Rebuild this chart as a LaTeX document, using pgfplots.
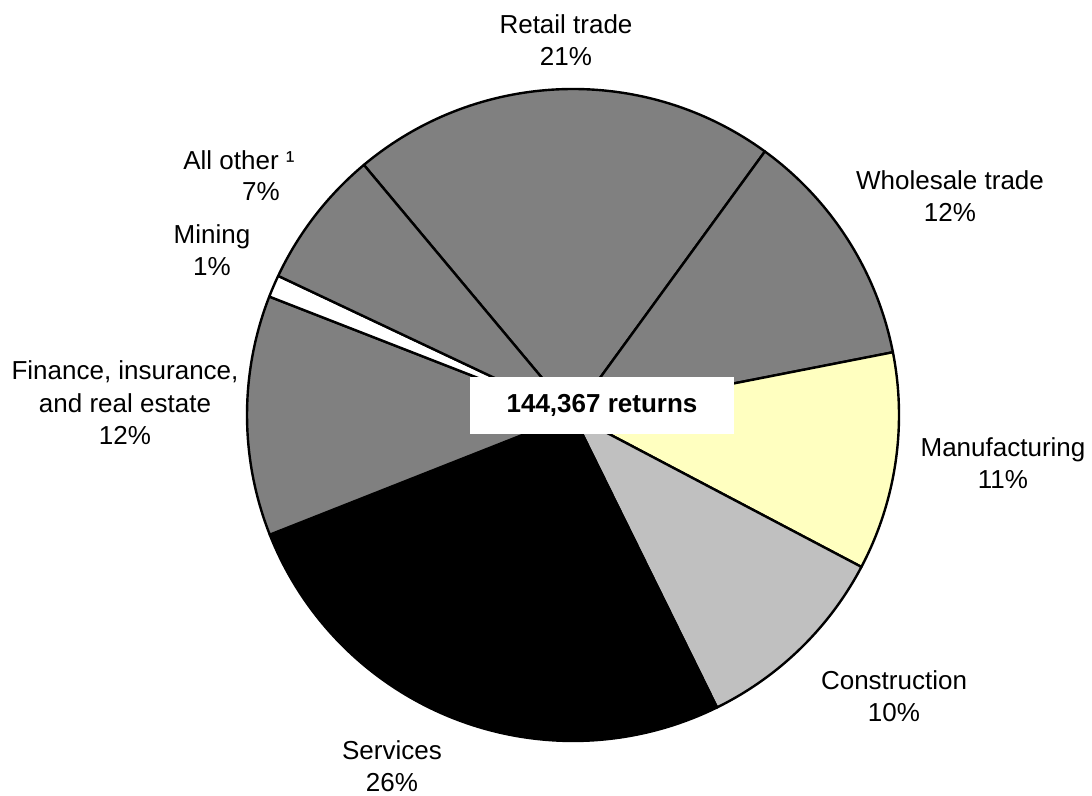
\documentclass[border=0pt]{standalone}
\usepackage{fontspec}
\setmainfont{Liberation Sans}
\usepackage{pgfplots}
\usepackage{pgfplotstable}
\pgfplotsset{compat=1.18}

\definecolor{piegray}{RGB}{128,128,128}
\definecolor{pielight}{RGB}{192,192,192}
\definecolor{pieyellow}{RGB}{255,255,192}

% slices clockwise, starting at the left edge of Retail trade
\pgfplotstableread[col sep=comma]{
name,value,color
Retail trade,21.1,piegray
Wholesale trade,11.9,piegray
Manufacturing,10.8,pieyellow
Construction,10.0,pielight
Services,26.3,black
Finance,11.9,piegray
Mining,1.1,white
All other,6.9,piegray
}\piedata

\begin{document}
\begin{tikzpicture}[lab/.style={font=\fontsize{13}{16.2}\selectfont, align=center}]
\useasboundingbox (0,0) rectangle (546pt,398pt);
\begin{axis}[
  at={(0,0)}, anchor=south west,
  scale only axis, width=546pt, height=398pt,
  xmin=0, xmax=1092, ymin=0, ymax=796,
  hide axis, clip=false,
]
\pgfplotstablegetrowsof{\piedata}
\pgfmathtruncatemacro\N{\pgfplotsretval-1}
\def\angstart{129.9}
\pgfplotsforeachungrouped \i in {0,...,\N}{%
  \pgfplotstablegetelem{\i}{value}\of\piedata \let\val\pgfplotsretval
  \pgfplotstablegetelem{\i}{color}\of\piedata \let\col\pgfplotsretval
  \pgfmathsetmacro\angend{\angstart-3.6*\val}
  \edef\temp{\noexpand\filldraw[fill=\col, draw=black, line width=1.2pt, line join=round]
    (axis cs:573,381) -- ++(\angstart:163pt)
    arc[start angle=\angstart, end angle=\angend, radius=163pt] -- cycle;}
  \temp
  \let\angstart\angend
}

\node[fill=white, inner sep=0pt, minimum width=132pt, minimum height=28.5pt,
      font=\bfseries\fontsize{13}{15}\selectfont] at (axis cs:602,390.5) {144,367 returns};

\node[lab] at (axis cs:566,756) {Retail trade\\21\%};
\node[lab] at (axis cs:950,600) {Wholesale trade\\12\%};
\node[lab] at (axis cs:1003,333) {Manufacturing\\11\%};
\node[lab] at (axis cs:894,100) {Construction\\10\%};
\node[lab] at (axis cs:392,30) {Services\\26\%};
\node[lab] at (axis cs:125,393) {Finance, insurance,\\and real estate\\12\%};
\node[lab] at (axis cs:212,546) {Mining\\1\%};
\node[lab] at (axis cs:239,636) {All other ¹};
\node[lab] at (axis cs:261,604) {7\%};
\end{axis}
\end{tikzpicture}
\end{document}
